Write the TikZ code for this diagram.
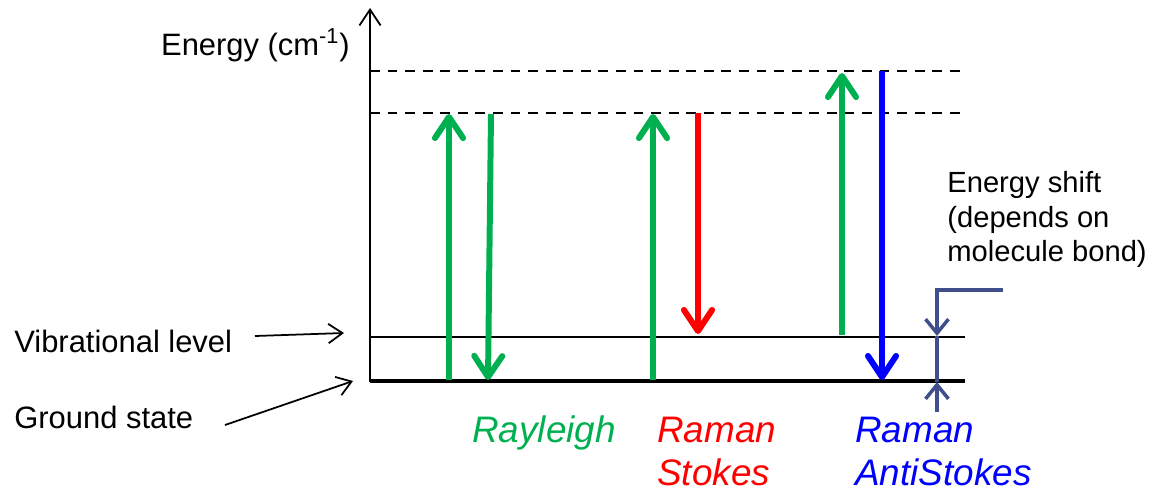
\documentclass[tikz,border=0pt]{standalone}
\usepackage{fontspec}
\setmainfont{Liberation Sans}
\usetikzlibrary{arrows.meta}

\definecolor{ramangreen}{RGB}{0,176,80}
\definecolor{shiftblue}{RGB}{64,78,140}

\begin{document}
\begin{tikzpicture}[
    x=0.02cm, y=-0.02cm,
    lbl/.style={inner sep=0pt, font=\fontsize{17.6}{21}\selectfont},
    tlbl/.style={inner sep=0pt, font=\fontsize{21}{25}\selectfont\itshape},
    virt/.style={line width=1.1pt, dash pattern=on 5.6pt off 4.4pt},
    photon/.style={line width=3.4pt, -{Straight Barb[length=12pt, width=16pt, line width=3.4pt, round]}},
    pointer/.style={line width=1pt, -{Straight Barb[length=8pt, width=11pt, line width=1pt]}},
    shiftline/.style={draw=shiftblue, line width=2pt, -{Straight Barb[length=8pt, width=13pt, line width=2pt]}}
]
    \useasboundingbox (0,0) rectangle (1150,491);

    % --- AXIS AND LEVELS ---
    \coordinate (O) at (370,382);
    \coordinate (top) at (370,8);
    \draw[line width=1pt, -{Straight Barb[length=9pt, width=12pt, line width=1pt]}] (O) -- (top);
    \coordinate (g1) at (370,381);  \coordinate (g2) at (965,381);
    \coordinate (v1) at (370,337);  \coordinate (v2) at (965,337);
    \coordinate (d1) at (370,113);  \coordinate (d2) at (965,113);
    \coordinate (e1) at (370,71);   \coordinate (e2) at (965,71);
    \draw[line width=2.4pt] (g1) -- (g2);
    \draw[line width=0.9pt] (v1) -- (v2);
    \draw[virt] (d1) -- (d2);
    \draw[virt] (e1) -- (e2);

    % --- LEFT LABELS ---
    \node[lbl, anchor=base east] (energy) at (350,55) {Energy (cm\textsuperscript{-1})};
    \node[lbl, anchor=base west] (vib) at (14,352) {Vibrational level};
    \node[lbl, anchor=base west] (ground) at (14,428) {Ground state};
    \coordinate (vibtail) at (255,336);
    \coordinate (vibtip) at (344,333);
    \coordinate (gndtail) at (225,425);
    \coordinate (gndtip) at (353,381);
    \draw[pointer] (vibtail) -- (vibtip);
    \draw[pointer] (gndtail) -- (gndtip);

    % --- RAYLEIGH ---
    \coordinate (ra1) at (449,380);  \coordinate (ra2) at (449,114);
    \coordinate (rb1) at (491,114);  \coordinate (rb2) at (488,380);
    \draw[photon, ramangreen] (ra1) -- (ra2);
    \draw[photon, ramangreen] (rb1) -- (rb2);

    % --- RAMAN STOKES ---
    \coordinate (sa1) at (653,380);  \coordinate (sa2) at (653,114);
    \coordinate (sb1) at (698,113);  \coordinate (sb2) at (698,334);
    \draw[photon, ramangreen] (sa1) -- (sa2);
    \draw[photon, red] (sb1) -- (sb2);

    % --- RAMAN ANTISTOKES ---
    \coordinate (aa1) at (842,335);  \coordinate (aa2) at (842,73);
    \coordinate (ab1) at (882,71);   \coordinate (ab2) at (882,380);
    \draw[photon, ramangreen] (aa1) -- (aa2);
    \draw[photon, blue] (ab1) -- (ab2);

    % --- ENERGY SHIFT ---
    \coordinate (s0) at (1003,290);
    \coordinate (s1) at (937,290);
    \coordinate (s2) at (937,336);
    \coordinate (s3) at (937,412);
    \coordinate (s4) at (937,382);
    \draw[shiftline] (s0) -- (s1) -- (s2);
    \draw[shiftline] (s3) -- (s4);
    \draw[draw=shiftblue, line width=2pt] (s2) -- (s4);
    \node[lbl, font=\fontsize{16.6}{20}\selectfont, anchor=base west] (shift1) at (947,192) {Energy shift};
    \node[lbl, font=\fontsize{16.6}{20}\selectfont, anchor=base west] (shift2) at (947,227) {(depends on};
    \node[lbl, font=\fontsize{16.6}{20}\selectfont, anchor=base west] (shift3) at (947,261) {molecule bond)};

    % --- PROCESS NAMES ---
    \node[tlbl, ramangreen, anchor=base west] (rayl) at (472,442) {Rayleigh};
    \node[tlbl, red, anchor=base west] (stk1) at (657,442) {Raman};
    \node[tlbl, red, anchor=base west] (stk2) at (657,485) {Stokes};
    \node[tlbl, blue, anchor=base west] (ast1) at (855,442) {Raman};
    \node[tlbl, blue, anchor=base west] (ast2) at (855,485) {AntiStokes};
\end{tikzpicture}
\end{document}
